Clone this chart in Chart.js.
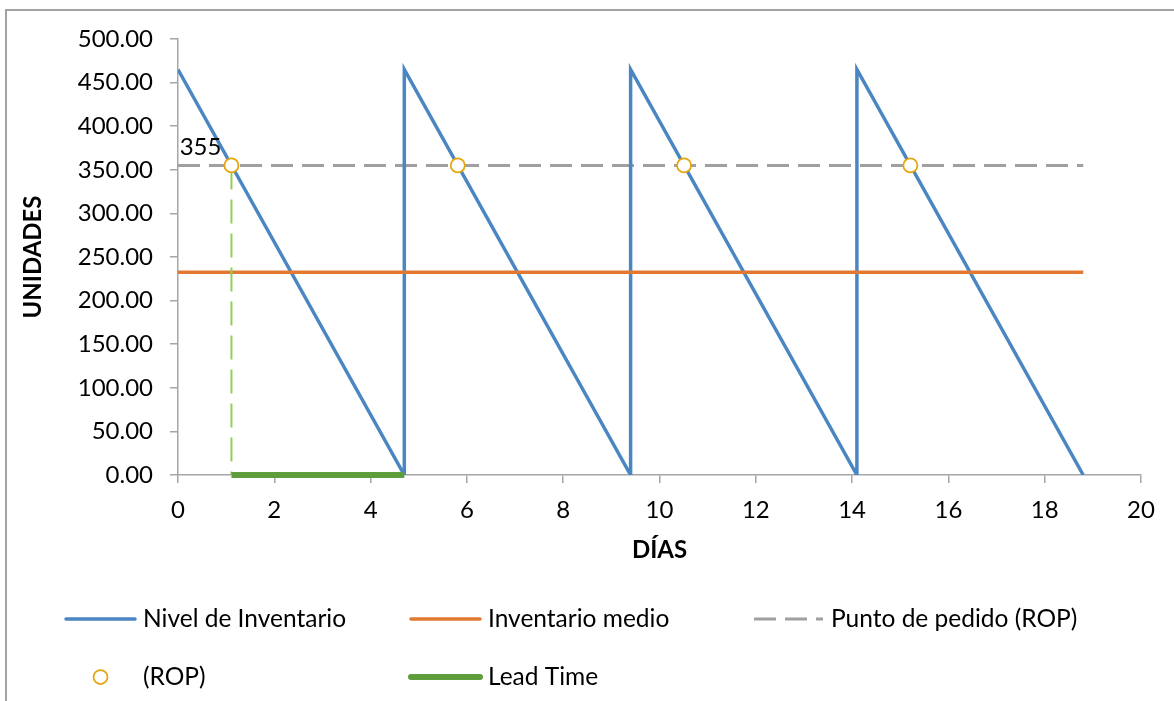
<!DOCTYPE html>
<html lang="es">
<head>
<meta charset="utf-8">
<title>Nivel de Inventario</title>
<script src="https://cdn.jsdelivr.net/npm/chart.js@4.4.1/dist/chart.umd.min.js"></script>
<style>
  html, body { margin: 0; padding: 0; background: #ffffff; }
  #wrap { position: relative; width: 1174px; height: 701px; overflow: hidden; }
  #frame { position: absolute; left: 5px; top: 9px; width: 1200px; height: 720px;
           border-top: 2px solid #a3a3a3; border-left: 2px solid #a3a3a3; pointer-events: none; }
  canvas { position: absolute; left: 0; top: 0; }
</style>
</head>
<body>
<div id="wrap">
  <canvas id="chart" width="1174" height="701"></canvas>
  <div id="frame"></div>
</div>
<script>
// Inventory level: saw-tooth between order quantity and zero
const days = [0, 4.7, 4.7, 9.4, 9.4, 14.1, 14.1, 18.8];
const stockLevel = [465, 0, 465, 0, 465, 0, 465, 0];

// Average inventory (Q / 2)
const averageDays = [0, 18.8];
const averageStock = [232.5, 232.5];

// Reorder point line
const ropDays = [0, 18.8];
const ropLevel = [355, 355];

// Moments when stock reaches the reorder point
const orderDays = [1.11, 5.81, 10.51, 15.21];
const orderLevel = [355, 355, 355, 355];

// Lead time span and the drop line from the first reorder point
const leadDays = [1.11, 4.7];
const leadLevel = [0, 0];
const dropDays = [1.11, 1.11];
const dropLevel = [355, 0];

// Axis ticks
const xTicks = [0, 2, 4, 6, 8, 10, 12, 14, 16, 18, 20];
const yTicks = [0, 50, 100, 150, 200, 250, 300, 350, 400, 450, 500];

const FONT = 'Lato, "Open Sans", sans-serif';
const AXIS_GREY = '#a6a6a6';

const pts = (xs, ys) => xs.map((x, i) => ({ x: x, y: ys[i] }));

// Draws the legend as a fixed grid below the plot
const gridLegend = {
  id: 'gridLegend',
  afterDraw(chart, args, opts) {
    const ctx = chart.ctx;
    ctx.save();
    ctx.font = opts.fontSize + 'px ' + FONT;
    ctx.textBaseline = 'middle';
    ctx.textAlign = 'left';
    opts.items.forEach(item => {
      const ds = chart.data.datasets[item.dataset];
      const x0 = item.x, y = item.y, len = opts.sampleLength;
      if (ds.showLine === false) {
        ctx.beginPath();
        ctx.arc(x0 + len / 2, y, ds.pointRadius, 0, Math.PI * 2);
        ctx.fillStyle = ds.pointBackgroundColor;
        ctx.fill();
        ctx.lineWidth = ds.pointBorderWidth;
        ctx.strokeStyle = ds.pointBorderColor;
        ctx.stroke();
      } else {
        ctx.beginPath();
        ctx.setLineDash(ds.borderDash || []);
        ctx.lineWidth = ds.borderWidth;
        ctx.strokeStyle = ds.borderColor;
        ctx.lineCap = ds.borderDash ? 'butt' : 'round';
        ctx.moveTo(x0, y);
        ctx.lineTo(x0 + len, y);
        ctx.stroke();
        ctx.setLineDash([]);
      }
      ctx.fillStyle = '#000000';
      ctx.fillText(ds.label, x0 + len + opts.gap, y);
    });
    ctx.restore();
  }
};

// Writes the reorder value next to the first reorder point
const ropValueLabel = {
  id: 'ropValueLabel',
  afterDatasetsDraw(chart, args, opts) {
    const xs = chart.scales.x, ys = chart.scales.y;
    const px = xs.getPixelForValue(orderDays[0]);
    const py = ys.getPixelForValue(orderLevel[0]);
    const ctx = chart.ctx;
    ctx.save();
    ctx.font = opts.fontSize + 'px ' + FONT;
    ctx.fillStyle = '#000000';
    ctx.textAlign = 'right';
    ctx.textBaseline = 'middle';
    ctx.fillText(String(orderLevel[0]), px + opts.dx, py + opts.dy);
    ctx.restore();
  }
};

new Chart(document.getElementById('chart'), {
  type: 'line',
  data: {
    datasets: [
      {
        label: 'Nivel de Inventario',
        data: pts(days, stockLevel),
        borderColor: '#4a86c2',
        borderWidth: 3.5,
        pointRadius: 0,
        tension: 0,
        order: 5
      },
      {
        label: 'Inventario medio',
        data: pts(averageDays, averageStock),
        borderColor: '#e27933',
        borderWidth: 3.5,
        pointRadius: 0,
        order: 4
      },
      {
        label: 'Punto de pedido (ROP)',
        data: pts(ropDays, ropLevel),
        borderColor: '#a0a0a0',
        borderWidth: 3,
        borderDash: [22, 9],
        pointRadius: 0,
        order: 6
      },
      {
        label: '(ROP)',
        data: pts(orderDays, orderLevel),
        showLine: false,
        pointRadius: 7,
        pointHoverRadius: 7,
        pointBackgroundColor: '#ffffff',
        pointBorderColor: '#e6a50c',
        pointBorderWidth: 1.75,
        order: 1
      },
      {
        label: 'Lead Time',
        data: pts(leadDays, leadLevel),
        borderColor: '#5f9c3c',
        borderWidth: 6,
        pointRadius: 0,
        clip: 4,
        order: 2
      },
      {
        label: 'Lead Time (inicio)',
        data: pts(dropDays, dropLevel),
        borderColor: '#92cf55',
        borderWidth: 2,
        borderDash: [24, 10],
        pointRadius: 0,
        order: 3
      }
    ]
  },
  options: {
    responsive: false,
    animation: false,
    events: [],
    layout: { padding: { top: 39, right: 33, bottom: 130, left: 0 } },
    scales: {
      x: {
        type: 'linear',
        min: 0,
        max: 20,
        afterBuildTicks: s => { s.ticks = xTicks.map(v => ({ value: v })); },
        afterFit: s => { s.height = 96; },
        ticks: { color: '#000000', font: { family: FONT, size: 24 }, padding: 13 },
        grid: { drawOnChartArea: false, drawTicks: true, tickLength: 8, color: AXIS_GREY, lineWidth: 1.5 },
        border: { color: AXIS_GREY, width: 1.5 },
        title: {
          display: true,
          text: 'DÍAS',
          color: '#000000',
          font: { family: FONT, size: 24, weight: 'bold' },
          padding: { top: 0, bottom: 6 }
        }
      },
      y: {
        min: 0,
        max: 500,
        afterBuildTicks: s => { s.ticks = yTicks.map(v => ({ value: v })); },
        afterFit: s => { s.width = 178; },
        ticks: {
          color: '#000000',
          font: { family: FONT, size: 24 },
          padding: 17,
          callback: v => Number(v).toFixed(2)
        },
        grid: { drawOnChartArea: false, drawTicks: true, tickLength: 8, color: AXIS_GREY, lineWidth: 1.5 },
        border: { color: AXIS_GREY, width: 1.5 },
        title: {
          display: true,
          text: 'UNIDADES',
          color: '#000000',
          font: { family: FONT, size: 24, weight: 'bold' },
          padding: { top: 19, bottom: 0 }
        }
      }
    },
    plugins: {
      legend: { display: false },
      tooltip: { enabled: false },
      gridLegend: {
        fontSize: 24.5,
        sampleLength: 69,
        gap: 8,
        items: [
          { dataset: 0, x: 66, y: 619 },
          { dataset: 1, x: 411, y: 619 },
          { dataset: 2, x: 754, y: 619 },
          { dataset: 3, x: 66, y: 677 },
          { dataset: 4, x: 411, y: 677 }
        ]
      },
      ropValueLabel: { fontSize: 24, dx: -10, dy: -18 }
    }
  },
  plugins: [gridLegend, ropValueLabel]
});
</script>
</body>
</html>
